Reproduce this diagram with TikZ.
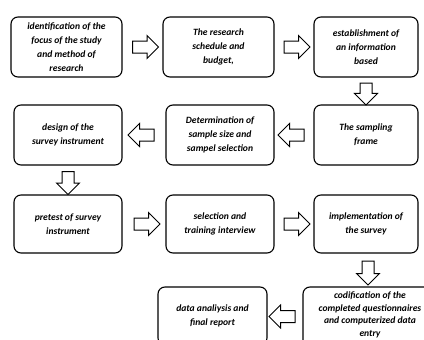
\documentclass[tikz,border=0pt]{standalone}
\usepackage{fontspec}
\setmainfont{Carlito}
\usetikzlibrary{shapes.arrows,calc}

\begin{document}
\begin{tikzpicture}[
        x=1pt, y=-1pt,
        stepbox/.style={
            rectangle,
            rounded corners=7pt,
            draw=black,
            line width=1.1pt,
            minimum height=60pt,
            inner sep=1pt,
            align=center,
            font=\bfseries\itshape\fontsize{9.6}{14}\selectfont
        },
        fatarrow/.style={
            single arrow,
            draw=black,
            line width=1pt,
            minimum height=26pt,
            inner sep=5.5pt,
            single arrow head extend=5.5pt
        }
    ]

    \useasboundingbox (0,0) rectangle (424,340);
    \clip (0,0) rectangle (424,340);

    % first row
    \node[stepbox, minimum width=111pt] (focus) at (66.5,47) {identification of the\\focus of the study\\and method of\\research};
    \node[stepbox, minimum width=111pt] (budget) at (218.5,47) {The research\\schedule and\\budget,};
    \node[stepbox, minimum width=104pt] (info) at (366,47) {establishment of\\an information\\based};

    % second row
    \node[stepbox, minimum width=104pt] (frame) at (366,135) {The sampling\\frame};
    \node[stepbox, minimum width=108pt] (sample) at (220,135) {Determination of\\sample size and\\sampel selection};
    \node[stepbox, minimum width=108pt] (design) at (68,135) {design of the\\survey instrument};

    % third row
    \node[stepbox, minimum width=108pt, minimum height=58pt] (pretest) at (68,224) {pretest of survey\\instrument};
    \node[stepbox, minimum width=108pt, minimum height=58pt] (training) at (220,224) {selection and\\training interview};
    \node[stepbox, minimum width=104pt, minimum height=58pt] (implement) at (366,224) {implementation of\\the survey};

    % last row
    \node[stepbox, minimum width=134pt, minimum height=60pt, text depth=6pt, font=\bfseries\itshape\fontsize{9.6}{12.6}\selectfont] (coding) at (370,317) {codification of the\\completed questionnaires\\and computerized data\\entry};
    \node[stepbox, minimum width=109pt, minimum height=58pt] (report) at (212.5,316) {data analiysis and\\final report};

    % block arrows
    \node[fatarrow] (a1) at ($(focus.east)!0.5!(budget.west)$) {};
    \node[fatarrow] (a2) at ($(budget.east)!0.5!(info.west)$) {};
    \node[fatarrow, shape border rotate=270, minimum height=22pt] (a3) at ($(info.south)!0.5!(frame.north)$) {};
    \node[fatarrow, shape border rotate=180] (a4) at ($(frame.west)!0.5!(sample.east)$) {};
    \node[fatarrow, shape border rotate=180] (a5) at ($(sample.west)!0.5!(design.east)$) {};
    \node[fatarrow, shape border rotate=270, minimum height=23pt] (a6) at ($(design.south)!0.5!(pretest.north)$) {};
    \node[fatarrow] (a7) at ($(pretest.east)!0.5!(training.west)$) {};
    \node[fatarrow] (a8) at ($(training.east)!0.5!(implement.west)$) {};
    \node[fatarrow, shape border rotate=270, minimum height=24pt] (a9) at (368,270) {};
    \node[fatarrow, shape border rotate=180] (a10) at ($(coding.west)!0.5!(report.east)$) {};

\end{tikzpicture}
\end{document}
